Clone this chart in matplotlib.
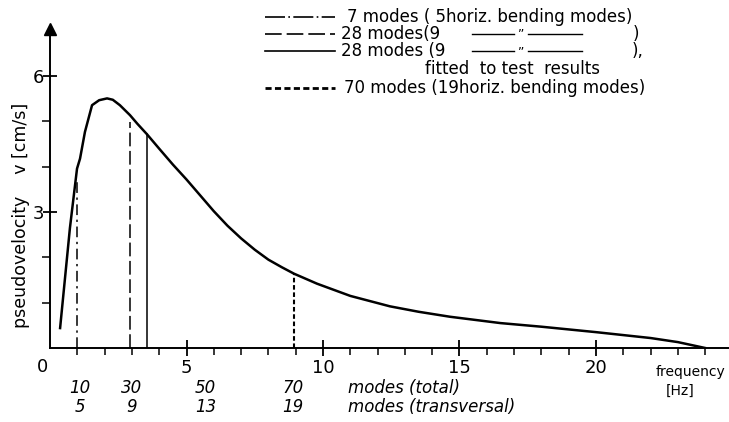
import matplotlib
matplotlib.use("Agg")
import matplotlib.pyplot as plt
from matplotlib.lines import Line2D
from matplotlib.transforms import blended_transform_factory

plt.rcParams['font.family'] = ['DejaVu Sans']

# ---- data ----
freq = [0.37, 0.73, 0.99, 1.10, 1.28, 1.54, 1.80, 2.09, 2.30, 2.56, 2.93, 3.20,
        3.55, 4.00, 4.50, 5.00, 5.50, 6.00, 6.50, 7.00, 7.50, 8.00, 8.50, 8.94,
        9.78, 11.0, 12.45, 13.5, 14.65, 16.5, 18.0, 20.0, 22.0, 23.0, 24.0]
velocity = [0.44, 2.65, 3.96, 4.18, 4.77, 5.36, 5.47, 5.51, 5.48, 5.36, 5.14, 4.95,
            4.72, 4.40, 4.05, 3.72, 3.37, 3.02, 2.70, 2.42, 2.17, 1.95, 1.78, 1.64,
            1.42, 1.15, 0.92, 0.80, 0.69, 0.55, 0.47, 0.35, 0.22, 0.13, 0.0]

cut_freq = [0.99, 2.93, 3.55, 8.94]
cut_top = [3.70, 4.99, 4.72, 1.64]

mode_pos = [1.1, 3.0, 5.7, 8.9]
modes_total = ["10", "30", "50", "70"]
modes_trans = ["5", "9", "13", "19"]

xticks_major = [5, 10, 15, 20]
xticks_minor = [1, 2, 3, 4, 6, 7, 8, 9, 11, 12, 13, 14, 16, 17, 18, 19, 21, 22, 23, 24]
yticks_major = [3, 6]
yticks_minor = [1, 2, 4, 5]

W, H = 729, 422
fig = plt.figure(figsize=(W / 100, H / 100), dpi=100)

x0px, y0px = 50, 348
ux, uy = 27.3, 45.3
top_px = 35
ax = fig.add_axes([x0px / W, (H - y0px) / H, (W - x0px) / W, (y0px - top_px) / H])
ax.set_xlim(0, (W - x0px) / ux)
ax.set_ylim(0, (y0px - top_px) / uy)

for s in ['top', 'right']:
    ax.spines[s].set_visible(False)
for s in ['left', 'bottom']:
    ax.spines[s].set_linewidth(1.4)

# arrow at y-axis top
ax.plot([0], [1.02], marker='^', color='black', markersize=9,
        transform=ax.get_xaxis_transform(), clip_on=False)

ax.set_xticks(xticks_major)
ax.set_xticks(xticks_minor, minor=True)
ax.set_yticks(yticks_major)
ax.set_yticks(yticks_minor, minor=True)
ax.tick_params(axis='x', which='major', direction='inout', length=12, width=1.3,
               labelsize=13, pad=2)
ax.tick_params(axis='x', which='minor', direction='out', length=5, width=1.1)
ax.tick_params(axis='y', which='major', direction='inout', length=10, width=1.3,
               labelsize=13, pad=-1)
ax.tick_params(axis='y', which='minor', direction='out', length=6, width=1.1)

# curve
ax.plot(freq, velocity, color='black', lw=1.8, solid_joinstyle='round')

# truncation lines
styles = [dict(dashes=[7, 3, 1.5, 3]), dict(dashes=[9, 3]), dict(linestyle='-'),
          dict(dashes=[2.2, 1.3])]
widths = [1.1, 1.1, 1.1, 1.5]
for f, t, st, w in zip(cut_freq, cut_top, styles, widths):
    ax.plot([f, f], [0, t], color='black', lw=w, **st)

# labels under the axis
bt = blended_transform_factory(ax.transData, fig.transFigure)
def fy(p):
    return 1 - p / H
def fx(p):
    return p / W

for p, a, b in zip(mode_pos, modes_total, modes_trans):
    ax.text(p, fy(388), a, transform=bt, ha='center', va='center',
            fontsize=12, style='italic')
    ax.text(p, fy(407), b, transform=bt, ha='center', va='center',
            fontsize=12, style='italic')

fig.text(fx(348), fy(388), "modes (total)", ha='left', va='center', fontsize=12, style='italic')
fig.text(fx(348), fy(407), "modes (transversal)", ha='left', va='center', fontsize=12, style='italic')
fig.text(fx(43), fy(367), "0", ha='center', va='center', fontsize=13)
fig.text(fx(690), fy(372), "frequency", ha='center', va='center', fontsize=10)
fig.text(fx(680), fy(391), "[Hz]", ha='center', va='center', fontsize=10)

fig.text(fx(21), fy(215), "pseudovelocity    v [cm/s]", rotation=90,
         ha='center', va='center', fontsize=12.5)

# legend (hand-drawn style)
def hline(x1, x2, y, lw=1.2, **kw):
    fig.add_artist(Line2D([fx(x1), fx(x2)], [fy(y), fy(y)], color='black', lw=lw,
                          transform=fig.transFigure, **kw))

rows = [17, 34, 51, 69, 88]
hline(265, 335, rows[0], dashes=[12, 2, 1, 2])
hline(265, 335, rows[1], dashes=[10, 3])
hline(265, 335, rows[2])
hline(265, 335, rows[4], lw=2.0, dashes=[2.2, 1.2])

fs = 12
fig.text(fx(347), fy(rows[0]), "7 modes ( 5horiz. bending modes)", ha='left', va='center', fontsize=fs)
fig.text(fx(341), fy(rows[1]), "28 modes(9", ha='left', va='center', fontsize=fs)
fig.text(fx(341), fy(rows[2]), "28 modes (9", ha='left', va='center', fontsize=fs)
for r in rows[1:3]:
    hline(472, 514, r, lw=1.0)
    hline(528, 582, r, lw=1.0)
    fig.text(fx(521), fy(r + 1), "\u201d", ha='center', va='center', fontsize=9)
fig.text(fx(636), fy(rows[1]), ")", ha='center', va='center', fontsize=fs)
fig.text(fx(632), fy(rows[2]), "),", ha='left', va='center', fontsize=fs)
fig.text(fx(425), fy(rows[3]), "fitted  to test  results", ha='left', va='center', fontsize=fs)
fig.text(fx(344), fy(rows[4]), "70 modes (19horiz. bending modes)", ha='left', va='center', fontsize=fs)

fig.savefig("out.png", dpi=100)
